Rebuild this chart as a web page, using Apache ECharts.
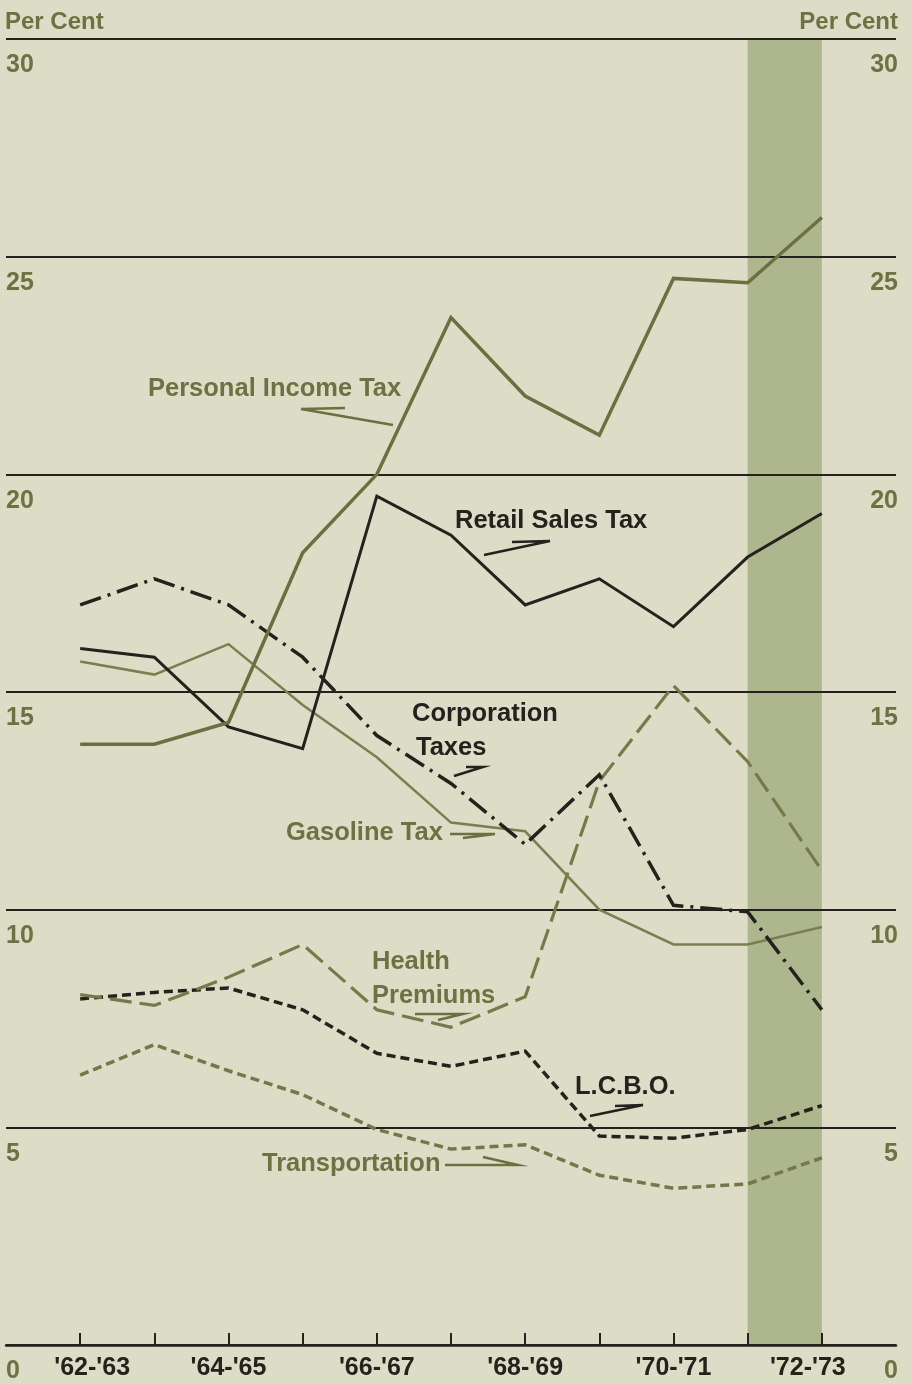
<!DOCTYPE html>
<html><head><meta charset="utf-8">
<script src="https://cdn.jsdelivr.net/npm/echarts@6/dist/echarts.min.js"></script>
<style>html,body{margin:0;padding:0;background:#dddcc7;}#c{width:912px;height:1384px;}</style>
</head><body><div id="c"></div>
<script>
const categories = ["'62-'63","'63-'64","'64-'65","'65-'66","'66-'67","'67-'68","'68-'69","'69-'70","'70-'71","'71-'72","'72-'73"];
const labeledCategories = [0, 2, 4, 6, 8, 10];
const yTicks = [0, 5, 10, 15, 20, 25, 30];
const personalIncomeTax = [13.8, 13.8, 14.3, 18.2, 20.0, 23.6, 21.8, 20.9, 24.5, 24.4, 25.9];
const retailSalesTax    = [16.0, 15.8, 14.2, 13.7, 19.5, 18.6, 17.0, 17.6, 16.5, 18.1, 19.1];
const gasolineTax       = [15.7, 15.4, 16.1, 14.7, 13.5, 12.0, 11.8, 10.0, 9.2, 9.2, 9.6];
const corporationTaxes  = [17.0, 17.6, 17.0, 15.8, 14.0, 12.9, 11.5, 13.1, 10.1, 9.95, 7.7];
const healthPremiums    = [8.05, 7.8, 8.45, 9.2, 7.7, 7.3, 8.0, 12.95, 15.15, 13.4, 10.9];
const lcbo              = [7.95, 8.1, 8.2, 7.7, 6.7, 6.4, 6.75, 4.8, 4.75, 4.95, 5.5];
const transportation    = [6.2, 6.9, 6.3, 5.75, 4.95, 4.5, 4.6, 3.9, 3.6, 3.7, 4.3];
const shadedPeriod = [9, 10];

const OLIVE = '#6b7040', DARK = '#23221c', OLIVE_TXT = '#6d7242';
const FONT = '"Liberation Sans", Arial, sans-serif';
const pairs = arr => arr.map((v, i) => [i, v]);
const yMax = yTicks[yTicks.length - 1];

function line(name, data, color, width, type) {
  return { name, type: 'line', data: pairs(data), symbol: 'none', z: 8,
    lineStyle: { color, width, type, cap: 'butt', join: 'miter' } };
}

const txt = (text, x, y, color) => ({ type: 'text', left: x, top: y, z: 100,
  style: { text, fill: color, font: 'bold 25.5px ' + FONT, textVerticalAlign: 'middle' } });
const harpoon = (pts, color) => ({ type: 'polyline', z: 100,
  shape: { points: pts }, style: { stroke: color, lineWidth: 2.5, fill: null } });

const xLabelStyle = { color: DARK, fontSize: 25, fontWeight: 'bold', fontFamily: FONT };

const chart = echarts.init(document.getElementById('c'), null, { renderer: 'canvas' });
chart.setOption({
  backgroundColor: '#dddcc7',
  animation: false,
  grid: { left: 6, right: 16, top: 39, bottom: 36, containLabel: false },
  xAxis: {
    type: 'value', min: -1, max: 11, interval: 1, z: 6,
    axisLine: { show: true, onZero: false, lineStyle: { color: DARK, width: 2.5 } },
    axisTick: { show: true, inside: true, length: 12, customValues: categories.map((c, i) => i),
      lineStyle: { color: DARK, width: 2 } },
    axisLabel: { show: true, customValues: labeledCategories, margin: 11,
      formatter: v => {
        const i = Math.round(v);
        if (i === 0) return '{first|' + categories[i] + '}';
        if (i === categories.length - 1) return '{last|' + categories[i] + '}';
        return '{mid|' + (categories[i] || '') + '}';
      },
      rich: {
        first: Object.assign({ padding: [0, 0, 0, 24] }, xLabelStyle),
        mid: Object.assign({}, xLabelStyle),
        last: Object.assign({ padding: [0, 28, 0, 0] }, xLabelStyle)
      },
      color: DARK, fontSize: 25, fontWeight: 'bold', fontFamily: FONT },
    splitLine: { show: false }
  },
  yAxis: [
    { type: 'value', position: 'left', min: 0, max: 30, interval: 5, z: 6,
      axisLine: { show: false }, axisTick: { show: false },
      splitLine: { show: true, lineStyle: { color: DARK, width: 2 } },
      axisLabel: { inside: true, margin: 0, align: 'left', verticalAlign: 'top', padding: [14, 0, 0, 0],
        showMinLabel: true, showMaxLabel: true,
        color: OLIVE_TXT, fontSize: 25, fontWeight: 'bold', fontFamily: FONT } },
    { type: 'value', position: 'right', min: 0, max: 30, interval: 5, z: 6,
      axisLine: { show: false }, axisTick: { show: false }, splitLine: { show: false },
      axisLabel: { inside: true, margin: -2, align: 'right', verticalAlign: 'top', padding: [14, 0, 0, 0],
        showMinLabel: true, showMaxLabel: true,
        color: OLIVE_TXT, fontSize: 25, fontWeight: 'bold', fontFamily: FONT } }
  ],
  series: [
    { name: 'shade', type: 'line', z: 1, silent: true, symbol: 'none',
      data: shadedPeriod.map(x => [x, yMax]),
      lineStyle: { width: 0, opacity: 0 },
      areaStyle: { color: '#adb68d', opacity: 1, origin: 'start' } },
    { type: 'line', data: [], z: 6, silent: true,
      markLine: { silent: true, z: 6, symbol: 'none', animation: false, label: { show: false },
        lineStyle: { color: DARK, width: 2, type: 'solid' },
        data: yTicks.filter(v => v > 0).map(v => ({ yAxis: v })) } },
    line('Transportation', transportation, '#737849', 3.5, [9, 5]),
    line('L.C.B.O.', lcbo, DARK, 3.5, [9, 5]),
    line('Health Premiums', healthPremiums, '#757a48', 3.2, [22, 8]),
    line('Gasoline Tax', gasolineTax, '#7b7f50', 2.5, 'solid'),
    line('Corporation Taxes', corporationTaxes, DARK, 3.5, [22, 7, 3, 7]),
    line('Retail Sales Tax', retailSalesTax, DARK, 3, 'solid'),
    line('Personal Income Tax', personalIncomeTax, OLIVE, 3.5, 'solid')
  ],
  graphic: [
    { type: 'text', left: 5, top: 10, z: 100, style: { text: 'Per Cent', fill: OLIVE_TXT, font: 'bold 24px ' + FONT } },
    { type: 'text', right: 14, top: 10, z: 100, style: { text: 'Per Cent', fill: OLIVE_TXT, font: 'bold 24px ' + FONT } },
    txt('Personal Income Tax', 148, 376, OLIVE_TXT),
    harpoon([[345, 408], [301, 409], [393, 425]], OLIVE),
    txt('Retail Sales Tax', 455, 508, DARK),
    harpoon([[484, 555], [550, 541], [512, 542]], DARK),
    txt('Corporation', 412, 701, DARK),
    txt('Taxes', 416, 735, DARK),
    harpoon([[454, 776], [483, 767], [466, 767]], DARK),
    txt('Gasoline Tax', 286, 820, OLIVE_TXT),
    harpoon([[450, 834], [495, 834], [463, 838]], OLIVE),
    txt('Health', 372, 949, OLIVE_TXT),
    txt('Premiums', 372, 983, OLIVE_TXT),
    harpoon([[415, 1014], [463, 1014], [438, 1020]], OLIVE),
    txt('L.C.B.O.', 575, 1074, DARK),
    harpoon([[590, 1116], [643, 1105], [615, 1106]], DARK),
    txt('Transportation', 262, 1151, OLIVE_TXT),
    harpoon([[445, 1165], [518, 1165], [483, 1157]], OLIVE)
  ]
});
</script></body></html>
